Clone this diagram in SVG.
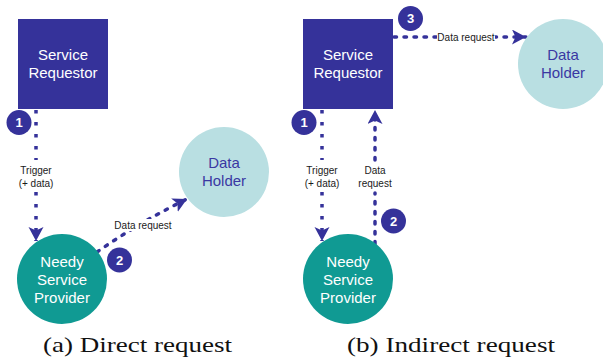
<svg xmlns="http://www.w3.org/2000/svg" width="603" height="360" viewBox="0 0 603 360">
  <style>
    .req { fill: #35329a; }
    .nsp { fill: #109a93; }
    .holder { fill: #b9dfe2; }
    .badge circle { fill: #35329a; }
    .badge text { fill: #ffffff; font-family: "Liberation Sans", Arial, sans-serif; font-size: 13px; font-weight: bold; text-anchor: middle; }
    .nodetxt { fill: #ffffff; font-family: "Liberation Sans", Arial, sans-serif; font-size: 15px; text-anchor: middle; }
    .holdtxt { fill: #3a38a2; font-family: "Liberation Sans", Arial, sans-serif; font-size: 15px; text-anchor: middle; }
    .lbl { fill: #1a1a1a; font-family: "Liberation Sans", Arial, sans-serif; font-size: 10px; text-anchor: middle; }
    .sq { fill: none; stroke: #35329a; stroke-width: 3.5; stroke-dasharray: 3.5 8.5; stroke-linecap: butt; }
    .rd { fill: none; stroke: #35329a; stroke-width: 3.5; stroke-dasharray: 2.5 7.5; stroke-linecap: round; }
    .cap { fill: #111111; font-family: "Liberation Serif", "Times New Roman", serif; font-size: 21px; }
  </style>
  <defs>
    <marker id="head" markerUnits="userSpaceOnUse" markerWidth="16" markerHeight="16" refX="14" refY="7.5" orient="auto">
      <path d="M0,0 L14,7.5 L0,15 L3.5,7.5 Z" fill="#35329a"/>
    </marker>
  </defs>
  <rect width="603" height="360" fill="#ffffff"/>

  <!-- connectors -->
  <g id="connectors">
    <!-- (a) trigger -->
    <path class="sq" d="M36,110 V160"/>
    <path class="sq" d="M36,192 V241" marker-end="url(#head)"/>
    <text class="lbl" x="36" y="173.5">Trigger</text>
    <text class="lbl" x="36" y="187">(+ data)</text>
    <!-- (a) data request -->
    <path class="rd" d="M97,252 Q140,222 187,199" marker-end="url(#head)"/>
    <rect x="114" y="219" width="58" height="12" fill="#ffffff"/>
    <text class="lbl" x="143" y="229">Data request</text>

    <!-- (b) trigger -->
    <path class="sq" d="M322,110 V160"/>
    <path class="sq" d="M322,192 V241" marker-end="url(#head)"/>
    <text class="lbl" x="322" y="173.5">Trigger</text>
    <text class="lbl" x="322" y="187">(+ data)</text>
    <!-- (b) data request back to requestor -->
    <path class="rd" d="M375,244 V193"/>
    <path class="rd" d="M375,160 V110" marker-end="url(#head)"/>
    <text class="lbl" x="375" y="173.5">Data</text>
    <text class="lbl" x="375" y="187">request</text>
    <!-- (b) requestor to holder -->
    <path class="rd" d="M394,37 H526" marker-end="url(#head)"/>
    <rect x="437" y="31" width="58" height="12" fill="#ffffff"/>
    <text class="lbl" x="466" y="40.5">Data request</text>
  </g>

  <!-- (a) direct request -->
  <g id="a-requestor">
    <rect class="req" x="18" y="19" width="90" height="90"/>
    <text class="nodetxt" x="63" y="60">Service</text>
    <text class="nodetxt" x="63" y="78">Requestor</text>
  </g>
  <g id="a-provider">
    <circle class="nsp" cx="62" cy="279" r="45"/>
    <text class="nodetxt" x="62" y="266.5">Needy</text>
    <text class="nodetxt" x="62" y="284.5">Service</text>
    <text class="nodetxt" x="62" y="302.5">Provider</text>
  </g>
  <g id="a-holder">
    <circle class="holder" cx="224" cy="172" r="45"/>
    <text class="holdtxt" x="224" y="167.5">Data</text>
    <text class="holdtxt" x="224" y="186">Holder</text>
  </g>
  <g id="a-step1" class="badge">
    <circle cx="19" cy="122.5" r="12.5"/>
    <text x="19" y="127">1</text>
  </g>
  <g id="a-step2" class="badge">
    <circle cx="119.5" cy="260" r="12.5"/>
    <text x="119.5" y="264.5">2</text>
  </g>
  <text class="cap" x="43" y="352" textLength="189" lengthAdjust="spacingAndGlyphs">(a) Direct request</text>

  <!-- (b) indirect request -->
  <g id="b-requestor">
    <rect class="req" x="303" y="19" width="90" height="90"/>
    <text class="nodetxt" x="348" y="60">Service</text>
    <text class="nodetxt" x="348" y="78">Requestor</text>
  </g>
  <g id="b-provider">
    <circle class="nsp" cx="348" cy="279" r="45"/>
    <text class="nodetxt" x="348" y="266.5">Needy</text>
    <text class="nodetxt" x="348" y="284.5">Service</text>
    <text class="nodetxt" x="348" y="302.5">Provider</text>
  </g>
  <g id="b-holder">
    <circle class="holder" cx="563" cy="64" r="45"/>
    <text class="holdtxt" x="563" y="59.5">Data</text>
    <text class="holdtxt" x="563" y="78">Holder</text>
  </g>
  <g id="b-step1" class="badge">
    <circle cx="304" cy="122.5" r="12.5"/>
    <text x="304" y="127">1</text>
  </g>
  <g id="b-step2" class="badge">
    <circle cx="393.5" cy="221" r="12.5"/>
    <text x="393.5" y="225.5">2</text>
  </g>
  <g id="b-step3" class="badge">
    <circle cx="410.5" cy="18.5" r="12.5"/>
    <text x="410.5" y="23">3</text>
  </g>
  <text class="cap" x="347" y="352" textLength="208" lengthAdjust="spacingAndGlyphs">(b) Indirect request</text>
</svg>
